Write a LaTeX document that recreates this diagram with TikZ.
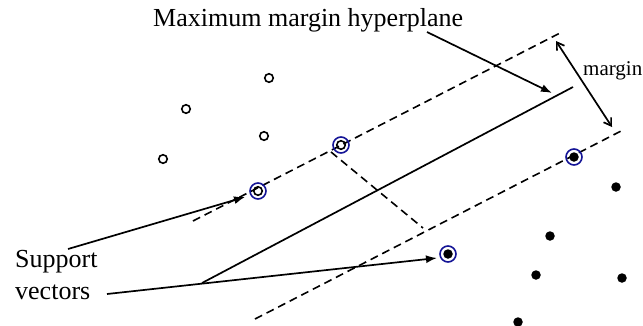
\documentclass[tikz,border=0pt]{standalone}
\usepackage{fontspec}
\setmainfont{Liberation Serif}
\usetikzlibrary{arrows.meta}
\definecolor{svblue}{RGB}{20,20,150}
\begin{document}
\begin{tikzpicture}[x=1pt,y=-1pt,
  ln/.style={line width=1.7pt},
  dsh/.style={line width=1.6pt,dash pattern=on 8pt off 5pt},
  arr/.style={line width=1.7pt,-{Latex[length=11pt,width=8pt]}},
  marr/.style={line width=1.7pt,{Straight Barb[length=7pt,width=9pt]}-{Straight Barb[length=7pt,width=9pt]}},
  opn/.style={circle,draw,line width=1.6pt,minimum size=8.5pt,inner sep=0pt},
  fil/.style={circle,fill,minimum size=9.5pt,inner sep=0pt},
  sv/.style={circle,draw=svblue,line width=1.6pt,minimum size=16pt,inner sep=0pt},
  big/.style={inner sep=0pt,anchor=base west,font=\fontsize{26}{31}\selectfont},
  small/.style={inner sep=0pt,anchor=base west,font=\fontsize{21}{25}\selectfont}]
\path[use as bounding box] (0,0) rectangle (643,325);
% lines
\coordinate (hA) at (202,283);
\coordinate (hB) at (573,87);
\coordinate (uA) at (193,221);
\coordinate (uB) at (562,32);
\coordinate (lA) at (255,319);
\coordinate (lB) at (623,130);
\coordinate (pA) at (331,152);
\coordinate (pB) at (423,228);
\coordinate (mA) at (556,41);
\coordinate (mB) at (612,127);
\coordinate (hT) at (552,93);
\draw[dsh] (uA) -- (uB);
\draw[dsh] (lA) -- (lB);
\draw[dsh] (pA) -- (pB);
\draw[ln] (hA) -- (hB);
\draw[marr] (mA) -- (mB);
% open points
\node[opn] (o1) at (269,78) {};
\node[opn] (o2) at (186,109) {};
\node[opn] (o3) at (264,136) {};
\node[opn] (o4) at (163,159) {};
\node[opn] (o5) at (341,145) {};
\node[opn] (o6) at (258,191) {};
\node[sv] (s1) at (341,145) {};
\node[sv] (s2) at (258,191) {};
% filled points
\node[fil] (f1) at (574,157) {};
\node[fil] (f2) at (616,187) {};
\node[fil] (f3) at (550,236) {};
\node[fil] (f4) at (448,254) {};
\node[fil] (f5) at (536,275) {};
\node[fil] (f6) at (622,278) {};
\node[fil] (f7) at (518,322) {};
\node[sv] (s3) at (574,157) {};
\node[sv] (s4) at (448,254) {};
% labels
\node[big] (title) at (153,26) {Maximum margin hyperplane};
\node[small] (marg) at (583,75) {margin};
\node[big] (sup) at (15,267) {Support};
\node[big] (vec) at (15,299) {vectors};
\coordinate (tS) at (427,32);
\coordinate (a1S) at (68,249);
\coordinate (a1T) at (245,197);
\coordinate (a2S) at (107,294);
\coordinate (a2T) at (437,258);
\draw[arr] (tS) -- (hT);
\draw[arr] (a1S) -- (a1T);
\draw[arr] (a2S) -- (a2T);
\end{tikzpicture}
\end{document}
